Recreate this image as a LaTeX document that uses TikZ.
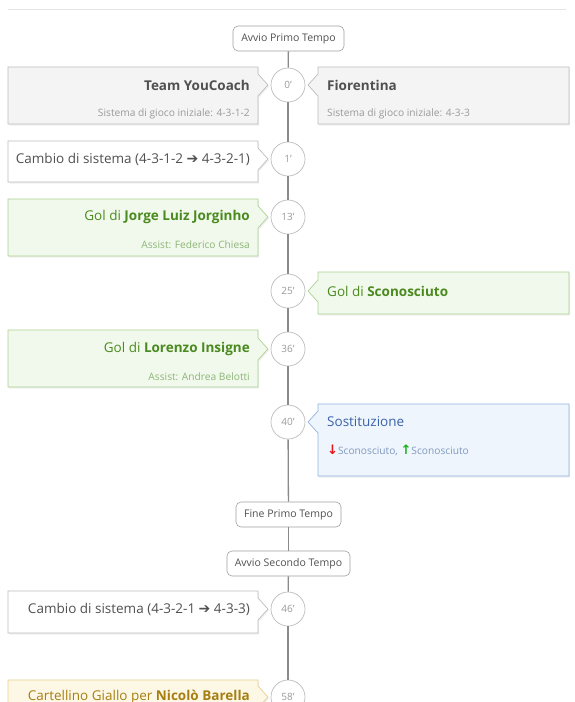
\documentclass[tikz,border=0pt]{standalone}
\usepackage{fontspec}
\setmainfont{Open Sans}
\newfontfamily\symfont{DejaVu Sans}
\usetikzlibrary{shadows}
\definecolor{tlgray}{HTML}{8A8A8A}
\definecolor{txtdark}{HTML}{505050}
\definecolor{txtsub}{HTML}{9A9A9A}
\definecolor{nbord}{HTML}{BDBDBD}
\definecolor{nfill}{HTML}{F4F4F4}
\definecolor{gfill}{HTML}{F1F8EC}
\definecolor{gbord}{HTML}{ABD393}
\definecolor{gtxt}{HTML}{4A8A1E}
\definecolor{gsub}{HTML}{8DB677}
\definecolor{bfill}{HTML}{EEF5FD}
\definecolor{bbord}{HTML}{93B3DF}
\definecolor{btxt}{HTML}{3A62A8}
\definecolor{bsub}{HTML}{8199BF}
\definecolor{yfill}{HTML}{FDF8E6}
\definecolor{ybord}{HTML}{E8CF8E}
\definecolor{ytxt}{HTML}{A67E12}
\definecolor{redarr}{HTML}{E8141B}
\definecolor{grnarr}{HTML}{1BB31B}
\tikzset{
  tline/.style={draw=tlgray, line width=1.3pt},
  tcirc/.style={circle, draw=nbord, fill=white, minimum size=34pt, inner sep=0pt, font=\fontsize{10}{12}\selectfont, text=txtsub, line width=0.7pt},
  phase/.style={draw=tlgray!80, fill=white, rounded corners=5pt, minimum height=25pt, inner sep=0pt, font=\fontsize{10.5}{12}\selectfont, text=txtdark, line width=0.6pt},
  evbox/.style={line width=0.7pt, drop shadow={shadow xshift=1pt, shadow yshift=-1.5pt, opacity=0.12}},
  ttl/.style={inner sep=0pt, font=\fontsize{13.5}{16}\selectfont},
  sub/.style={inner sep=0pt, font=\fontsize{10.2}{12}\selectfont},
}
\newcommand\lbox[5]{\path[evbox, draw=#5, fill=#4] (8,#1) -- (258,#1) -- (258,{#3-11}) -- (268,#3) -- (258,{#3+11}) -- (258,#2) -- (8,#2) -- cycle;}
\newcommand\rbox[5]{\path[evbox, draw=#5, fill=#4] (318,#1) -- (569,#1) -- (569,#2) -- (318,#2) -- (318,{#3+11}) -- (308,#3) -- (318,{#3-11}) -- cycle;}
\newcommand\bigarr{{\symfont\fontsize{14}{14}\selectfont ➔}}
\newcommand\dnarr{{\color{redarr}\symfont\bfseries\fontsize{13}{12}\selectfont ↓}}
\newcommand\uparr{{\color{grnarr}\symfont\bfseries\fontsize{13}{12}\selectfont ↑}}
\begin{document}
\begin{tikzpicture}[x=1pt, y=-1pt]
\useasboundingbox (0,0) rectangle (574,702);
\clip (0,0) rectangle (574,702);
\fill[white] (0,0) rectangle (574,702);
\draw[draw=black!10, line width=0.8pt] (8,9) -- (566,9);
% phase nodes
\node[phase, minimum width=111pt] (avvio1) at (288.5,38.5) {Avvio Primo Tempo};
\node[phase, minimum width=105pt] (fine1) at (288.5,514.5) {Fine Primo Tempo};
\node[phase, minimum width=123pt] (avvio2) at (288.5,563.5) {Avvio Secondo Tempo};
% minute circles
\node[tcirc] (c0) at (288,85) {0'};
\node[tcirc] (c1) at (288,159) {1'};
\node[tcirc] (c13) at (288,217) {13'};
\node[tcirc] (c25) at (288,291) {25'};
\node[tcirc] (c36) at (288,349) {36'};
\node[tcirc] (c40) at (288,422) {40'};
\node[tcirc] (c46) at (288,609) {46'};
\node[tcirc] (c58) at (288,697) {58'};
% timeline connectors
\draw[tline] (avvio1) -- (c0);
\draw[tline] (c0) -- (c1);
\draw[tline] (c1) -- (c13);
\draw[tline] (c13) -- (c25);
\draw[tline] (c25) -- (c36);
\draw[tline] (c36) -- (c40);
\draw[tline] (c40) -- (fine1);
\draw[tline] (fine1) -- (avvio2);
\draw[tline] (avvio2) -- (c46);
\draw[tline] (c46) -- (c58);
% event boxes
\lbox{67}{124}{85}{nfill}{nbord}
\rbox{67}{124}{85}{nfill}{nbord}
\lbox{141}{182}{159}{white}{nbord}
\lbox{199}{256}{217}{gfill}{gbord}
\rbox{272}{314}{291}{gfill}{gbord}
\lbox{330}{387}{349}{gfill}{gbord}
\rbox{404}{476}{422}{bfill}{bbord}
\lbox{591}{633}{609}{white}{nbord}
\lbox{680}{740}{697}{yfill}{ybord}
% texts
\node[ttl, anchor=east, text=txtdark] (t0l) at (250,85) {\textbf{Team YouCoach}};
\node[sub, anchor=east, text=txtsub] (s0l) at (250,114) {Sistema di gioco iniziale: 4-3-1-2};
\node[ttl, anchor=west, text=txtdark] (t0r) at (327,85) {\textbf{Fiorentina}};
\node[sub, anchor=west, text=txtsub] (s0r) at (327,114) {Sistema di gioco iniziale: 4-3-3};
\node[ttl, anchor=east, text=txtdark] (t1) at (250,159) {Cambio di sistema (4-3-1-2 \bigarr{} 4-3-2-1)};
\node[ttl, anchor=east, text=gtxt] (t13) at (250,217) {Gol di \textbf{Jorge Luiz Jorginho}};
\node[sub, anchor=east, text=gsub] (s13) at (250,245) {Assist: Federico Chiesa};
\node[ttl, anchor=west, text=gtxt] (t25) at (327,291) {Gol di \textbf{Sconosciuto}};
\node[ttl, anchor=east, text=gtxt] (t36) at (250,349) {Gol di \textbf{Lorenzo Insigne}};
\node[sub, anchor=east, text=gsub] (s36) at (250,377) {Assist: Andrea Belotti};
\node[ttl, anchor=west, text=btxt] (t40) at (327,422) {Sostituzione};
\node[sub, anchor=west, text=bsub] (s40) at (327,450) {\dnarr{}Sconosciuto, \uparr{}Sconosciuto};
\node[ttl, anchor=east, text=txtdark] (t46) at (250,609) {Cambio di sistema (4-3-2-1 \bigarr{} 4-3-3)};
\node[ttl, anchor=east, text=ytxt] (t58) at (250,697) {Cartellino Giallo per \textbf{Nicolò Barella}};
\end{tikzpicture}
\end{document}
